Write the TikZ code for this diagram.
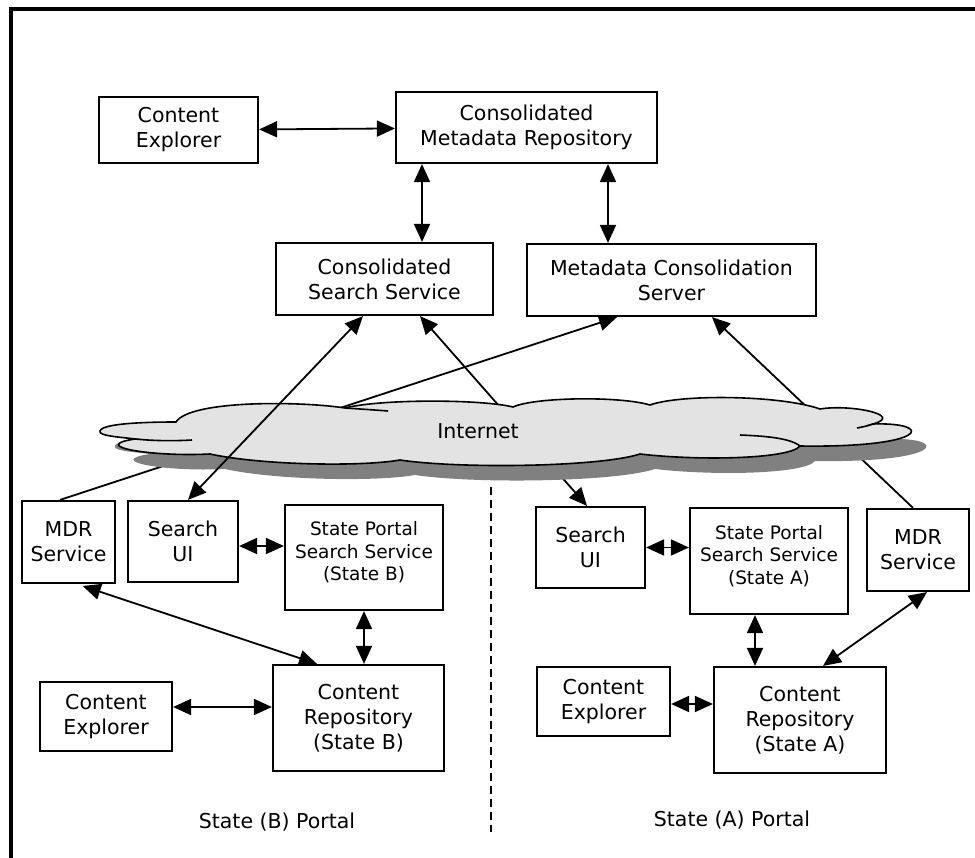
\documentclass[tikz,border=0pt]{standalone}
\usepackage{fontspec}
\setmainfont{DejaVu Sans}
\usetikzlibrary{arrows.meta}
\definecolor{cloudfill}{HTML}{E3E3E3}
\definecolor{cloudshade}{HTML}{808080}
\newcommand{\boxfont}{\fontsize{20.5}{25}\selectfont}
\newcommand{\smallboxfont}{\fontsize{18.5}{22.5}\selectfont}
\newcommand{\liftup}[2]{\raisebox{#1}[\height][\depth]{\begin{tabular}{@{}c@{}}#2\end{tabular}}}
\newcommand{\cloudpath}{(100,-431) .. controls (102,-423) and (150,-422) .. (176,-422)
  .. controls (190,-400) and (300,-401) .. (345,-408)
  .. controls (380,-399) and (480,-399) .. (513,-407)
  .. controls (535,-397) and (620,-396) .. (650,-405)
  .. controls (680,-394) and (780,-395) .. (820,-409)
  .. controls (850,-404) and (905,-415) .. (873,-424)
  .. controls (935,-422) and (930,-448) .. (800,-446)
  .. controls (790,-459) and (700,-461) .. (640,-454)
  .. controls (600,-467) and (460,-469) .. (400,-460)
  .. controls (360,-467) and (260,-465) .. (210,-454)
  .. controls (150,-457) and (88,-446) .. (135,-439)
  .. controls (120,-437) and (98,-436) .. (100,-431) -- cycle}
\tikzset{
  box/.style={draw, line width=2.2pt, align=center, inner sep=2pt, font=\boxfont},
  sbox/.style={box, font=\smallboxfont},
  lnk/.style={line width=1.8pt, -{Triangle[length=18pt,width=16pt]}},
  dbl/.style={line width=1.8pt, {Triangle[length=18pt,width=16pt]}-{Triangle[length=18pt,width=16pt]}},
}
\begin{document}
\begin{tikzpicture}[x=1pt,y=1pt]
        \clip (0,0) rectangle (975,-858);
        \draw[line width=4pt] (10.5,-9.5) rectangle (1000,-900);
        \node[box, minimum width=159pt, minimum height=66pt] (ce0) at (178.5,-130) {Content\\Explorer};
        \node[box, minimum width=261pt, minimum height=71pt] (cmr) at (526.5,-127.5) {Consolidated\\Metadata Repository};
        \node[box, minimum width=217pt, minimum height=72pt] (css) at (384.5,-279) {Consolidated\\Search Service};
        \node[box, minimum width=289pt, minimum height=72pt] (mcs) at (671.5,-280) {Metadata Consolidation\\Server};
        \node[box, minimum width=93pt, minimum height=82pt] (mdrB) at (68.5,-542) {MDR\\Service};
        \node[box, minimum width=110pt, minimum height=81pt] (suiB) at (183,-541.5) {Search\\UI};
        \node[sbox, minimum width=158pt, minimum height=105pt] (spssB) at (364,-557.5) {\liftup{4pt}{State Portal\\Search Service\\(State B)}};
        \node[box, minimum width=171pt, minimum height=106pt] (crB) at (358.5,-718) {Content\\Repository\\(State B)};
        \node[box, minimum width=132pt, minimum height=69pt] (ceB) at (106,-716.5) {Content\\Explorer};
        \node[box, minimum width=109pt, minimum height=81pt] (suiA) at (590.5,-547.5) {Search\\UI};
        \node[sbox, minimum width=158pt, minimum height=106pt] (spssA) at (769,-561) {\liftup{4pt}{State Portal\\Search Service\\(State A)}};
        \node[box, minimum width=102pt, minimum height=82pt] (mdrA) at (918,-550) {MDR\\Service};
        \node[box, minimum width=172pt, minimum height=106pt] (crA) at (800,-720) {Content\\Repository\\(State A)};
        \node[box, minimum width=133pt, minimum height=69pt] (ceA) at (603.5,-701.5) {Content\\Explorer};
        \node[font=\boxfont] (portB) at (277,-822) {State (B) Portal};
        \node[font=\boxfont] (portA) at (732,-820) {State (A) Portal};
        \coordinate (dtop) at (491,-487);
        \coordinate (dbot) at (491,-832);
        \draw[line width=1.8pt, dash pattern=on 8pt off 5pt] (dtop) -- (dbot);
        \draw[dbl] (ce0) -- (cmr);
        \draw[dbl] ([xshift=-104.5pt]cmr.south) -- ([xshift=-104.5pt]cmr.south |- css.north);
        \draw[dbl] ([xshift=81.5pt]cmr.south) -- ([xshift=81.5pt]cmr.south |- mcs.north);
        \draw[lnk] ([xshift=-8.5pt]mdrB.north) -- ([xshift=-54.5pt]mcs.south);
        \draw[dbl] ([xshift=35.5pt]css.south) -- ([xshift=-3.5pt]suiA.north);
        \draw[lnk] ([xshift=-5pt]mdrA.north) -- ([xshift=40.5pt]mcs.south);
        \fill[cloudshade, xshift=15pt, yshift=-15pt] \cloudpath;
        \filldraw[fill=cloudfill, line width=1.6pt] \cloudpath;
        \draw[line width=1.6pt] (135,-439) .. controls (155,-441) and (175,-441) .. (192,-440);
        \draw[line width=1.6pt] (345,-408) .. controls (360,-409) and (375,-410) .. (388,-411);
        \draw[line width=1.6pt] (800,-446) .. controls (790,-438) and (765,-436) .. (740,-435);
        \draw[line width=1.6pt] (873,-424) .. controls (868,-426) and (862,-427) .. (857,-428);
        \node[font=\boxfont] (inet) at (478,-431) {Internet};
        \draw[dbl] ([xshift=5pt]suiB.north) -- ([xshift=-21.5pt]css.south);
        \draw[dbl] ([yshift=-4.5pt]suiB.east) -- ([yshift=-4.5pt]suiB.east -| spssB.west);
        \draw[dbl] (spssB.south) -- (spssB.south |- crB.north);
        \draw[dbl, shorten <=6pt] ([xshift=8.5pt]mdrB.south) -- ([xshift=-41.5pt]crB.north);
        \draw[dbl] ([yshift=9.5pt]ceB.east) -- ([yshift=9.5pt]ceB.east -| crB.west);
        \draw[dbl] (suiA.east) -- (suiA.east -| spssA.west);
        \draw[dbl] ([xshift=-14pt]spssA.south) -- ([xshift=-14pt]spssA.south |- crA.north);
        \draw[dbl] ([xshift=9pt]mdrA.south) -- ([xshift=23pt]crA.north);
        \draw[dbl] ([yshift=-2.5pt]ceA.east) -- ([yshift=-2.5pt]ceA.east -| crA.west);
      \end{tikzpicture}
\end{document}
